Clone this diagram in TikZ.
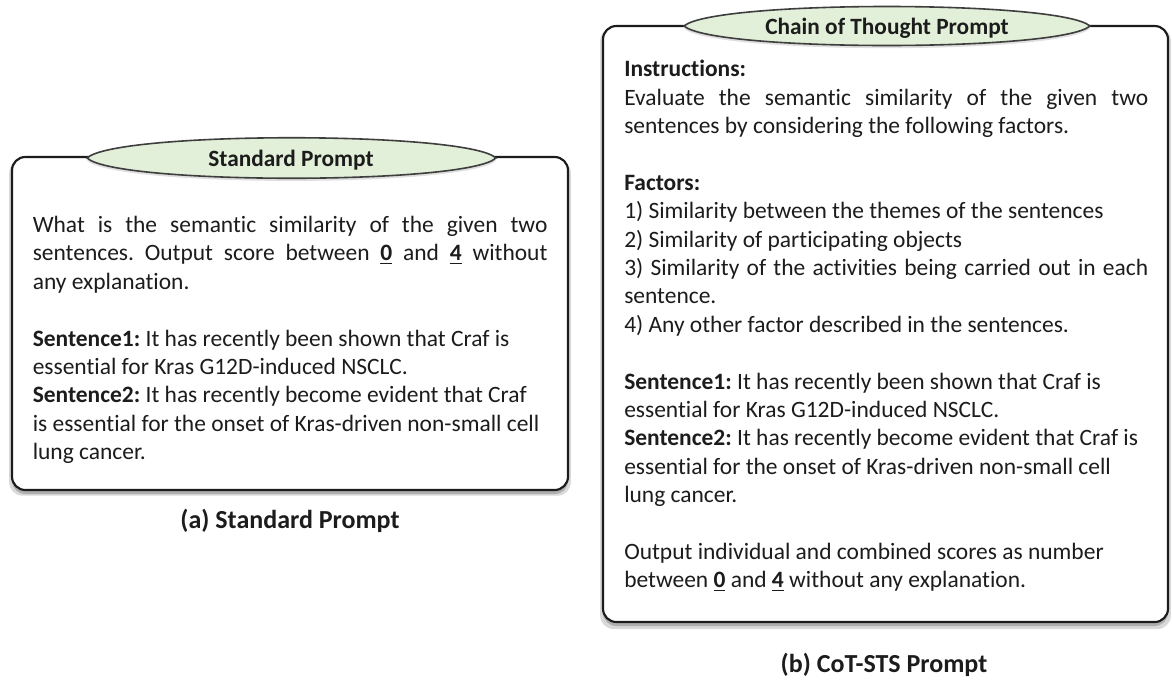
\documentclass[tikz,border=0pt]{standalone}
\usepackage{fontspec}
\setmainfont{Carlito}[Ligatures={TeX,NoCommon}]
\usetikzlibrary{shadows,calc}
\setlength{\parindent}{0pt}
\frenchspacing
\definecolor{headgreen}{HTML}{E2EFD9}
\definecolor{boxline}{HTML}{1C1C1C}
\newcommand{\ulnum}[1]{\underline{\textbf{#1}}}
\tikzset{
  promptbox/.style={draw=boxline, line width=1.6pt, rounded corners=10pt, fill=white,
    general shadow={shadow scale=1.01, shadow yshift=-3pt, opacity=0.15, fill=black},
    drop shadow={shadow xshift=0pt, shadow yshift=-3pt, opacity=0.3, fill=black!70}},
  headshape/.style={draw=boxline!85, line width=1.2pt, fill=headgreen,
    drop shadow={shadow xshift=0pt, shadow yshift=-2pt, opacity=0.25}},
  headtext/.style={font=\fontsize{17.5}{20}\selectfont\bfseries, inner sep=0pt, text=boxline},
  bodytext/.style={font=\fontsize{17.6}{21.3}\selectfont, align=justify, inner sep=0pt,
    anchor=north west, text=boxline},
  captext/.style={font=\fontsize{19.5}{22}\selectfont\bfseries, inner sep=0pt, text=boxline},
}
\begin{document}
\begin{tikzpicture}[x=0.75pt, y=-0.75pt]
  \path[use as bounding box, fill=white] (0,0) rectangle (1172,679);

  % (a) standard prompt
  \draw[promptbox] (12,157) rectangle (568,490);
  \draw[headshape] (87,158) .. controls (116,131) and (467,131) .. (496,158)
    .. controls (467,185) and (116,185) .. cycle;
  \node[headtext] (stdhead) at (291,160) {Standard Prompt};
  \node[bodytext, text width=386pt] (stdbody) at (32.5,216) {%
    What is the semantic similarity of the given two\linebreak
    sentences. Output score between \ulnum{0} and \ulnum{4} without\linebreak
    any explanation.\\[21.3pt]
    \textbf{Sentence1:} It has recently been shown that Craf is\\
    essential for Kras G12D-induced NSCLC.\\
    \textbf{Sentence2:} It has recently become evident that Craf\\
    is essential for the onset of Kras-driven non-small cell\\
    lung cancer.};
  \node[captext] (stdcap) at (290,521) {(a) Standard Prompt};

  % (b) chain of thought prompt
  \draw[promptbox] (603,26) rectangle (1168,622);
  \draw[headshape] (684,26) .. controls (714,0) and (1060,0) .. (1090,26)
    .. controls (1060,52) and (714,52) .. cycle;
  \node[headtext] (cothead) at (887,28) {Chain of Thought Prompt};
  \node[bodytext, text width=393pt] (cotbody) at (624,60) {%
    \textbf{Instructions:}\\
    Evaluate the semantic similarity of the given two\linebreak
    sentences by considering the following factors.\\[21.3pt]
    \textbf{Factors:}\\
    1) Similarity between the themes of the sentences\\
    2) Similarity of participating objects\\
    3) Similarity of the activities being carried out in each\linebreak
    sentence.\\
    4) Any other factor described in the sentences.\\[21.3pt]
    \textbf{Sentence1:} It has recently been shown that Craf is\\
    essential for Kras G12D-induced NSCLC.\\
    \textbf{Sentence2:} It has recently become evident that Craf is\\
    essential for the onset of Kras-driven non-small cell\\
    lung cancer.\\[21.3pt]
    Output individual and combined scores as number\\
    between \ulnum{0} and \ulnum{4} without any explanation.};
  \node[captext] (cotcap) at (884,665) {(b) CoT-STS Prompt};
\end{tikzpicture}
\end{document}
